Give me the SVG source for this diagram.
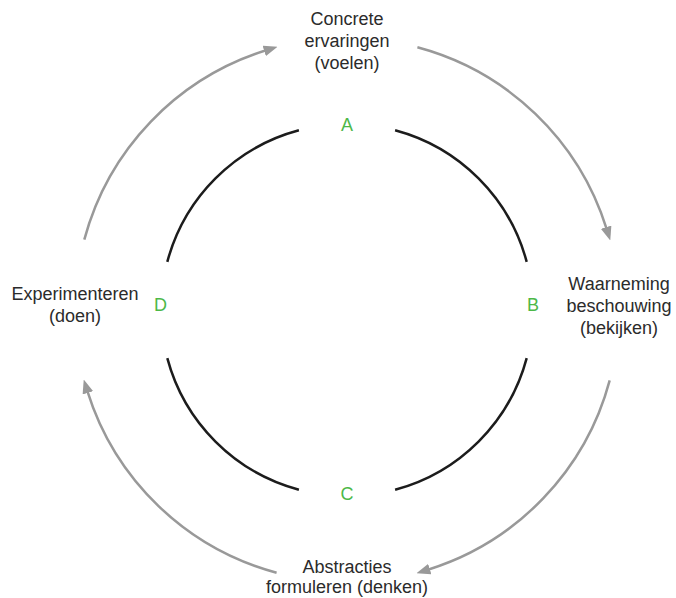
<svg xmlns="http://www.w3.org/2000/svg" width="676" height="598" viewBox="0 0 676 598">
  <style>
    .lbl { font-family: "Liberation Sans", Arial, sans-serif; font-size: 18px; fill: #2b2b2b; text-anchor: middle; }
    .let { font-family: "Liberation Sans", Arial, sans-serif; font-size: 18px; fill: #4cb848; text-anchor: middle; }
    .ring { fill: none; stroke: #1c1c1c; stroke-width: 2.5; }
    .arr { fill: none; stroke: #999999; stroke-width: 2.5; marker-end: url(#ah); }
  </style>
  <defs>
    <marker id="ah" markerUnits="userSpaceOnUse" markerWidth="14" markerHeight="11" refX="2" refY="5.5" orient="auto">
      <path d="M0,0 L14,5.5 L0,11 z" fill="#999999"/>
    </marker>
  </defs>
  <rect width="676" height="598" fill="#ffffff"/>

  <g id="ring">
    <path class="ring" d="M395.1,130.3 A186,186 0 0 1 526.7,261.9"/>
    <path class="ring" d="M526.7,358.1 A186,186 0 0 1 395.1,489.7"/>
    <path class="ring" d="M298.9,489.7 A186,186 0 0 1 167.3,358.1"/>
    <path class="ring" d="M167.3,261.9 A186,186 0 0 1 298.9,130.3"/>
  </g>

  <g id="connectors">
    <path class="arr" d="M417.4,47.3 A272,272 0 0 1 606.7,229.1"/>
    <path class="arr" d="M609.7,380.4 A272,272 0 0 1 427.9,569.7"/>
    <path class="arr" d="M276.6,572.7 A272,272 0 0 1 87.3,390.9"/>
    <path class="arr" d="M84.3,239.6 A272,272 0 0 1 266.1,50.3"/>
  </g>

  <g id="node-a">
    <text class="lbl" x="347" y="25">Concrete</text>
    <text class="lbl" x="347" y="47">ervaringen</text>
    <text class="lbl" x="347" y="69">(voelen)</text>
    <text class="let" x="347" y="131">A</text>
  </g>
  <g id="node-b">
    <text class="lbl" x="619" y="290">Waarneming</text>
    <text class="lbl" x="619" y="312">beschouwing</text>
    <text class="lbl" x="619" y="334">(bekijken)</text>
    <text class="let" x="533" y="310.5">B</text>
  </g>
  <g id="node-c">
    <text class="lbl" x="347" y="573">Abstracties</text>
    <text class="lbl" x="347" y="593">formuleren (denken)</text>
    <text class="let" x="347" y="500">C</text>
  </g>
  <g id="node-d">
    <text class="lbl" x="75" y="300">Experimenteren</text>
    <text class="lbl" x="75" y="322">(doen)</text>
    <text class="let" x="160.5" y="310.5">D</text>
  </g>
</svg>
